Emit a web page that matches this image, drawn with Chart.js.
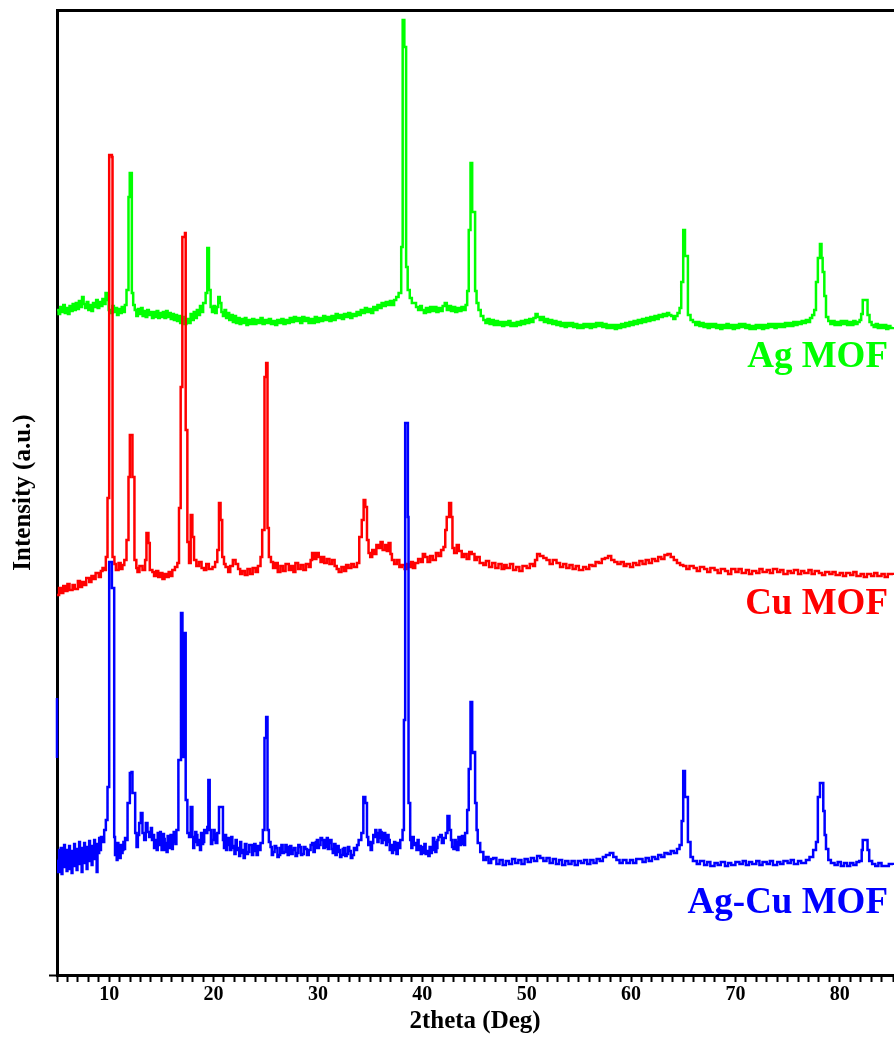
<!DOCTYPE html>
<html>
<head>
<meta charset="utf-8">
<script src="https://cdn.jsdelivr.net/npm/chart.js@4.4.1/dist/chart.umd.min.js"></script>
<style>
  html, body { margin: 0; padding: 0; background: #fff; }
  #wrap { width: 894px; height: 1037px; position: relative; }
</style>
</head>
<body>
<div id="wrap"><canvas id="c" width="894" height="1037"></canvas></div>
<script>
// ---- Data (2theta in degrees, intensity in arbitrary units, stacked offsets as shown) ----
const seriesNames = ['Ag-Cu MOF', 'Cu MOF', 'Ag MOF'];
const xTickLabels = [10, 20, 30, 40, 50, 60, 70, 80];

const agMOF = [[5.0,690],[5.15,686],[5.3,693],[5.45,688],[5.6,695],[5.75,687],[5.9,692],[6.05,686],[6.2,694],[6.35,689],[6.5,696],[6.65,690],[6.8,697],[6.95,691],[7.1,699],[7.25,693],[7.4,703],[7.55,696],[7.7,692],[7.85,698],[8.0,690],[8.15,695],[8.3,689],[8.45,697],[8.6,693],[8.75,700],[8.9,692],[9.05,698],[9.2,694],[9.35,701],[9.5,696],[9.65,707],[9.8,700],[9.95,690],[10.1,687],[10.3,694],[10.45,688],[10.6,692],[10.75,685],[10.9,691],[11.05,687],[11.2,693],[11.35,688],[11.5,695],[11.66,710],[11.85,803],[11.97,827],[12.1,827],[12.17,707],[12.3,695],[12.45,690],[12.6,684],[12.75,691],[12.9,686],[13.05,692],[13.2,684],[13.35,689],[13.5,683],[13.65,690],[13.8,685],[13.95,688],[14.1,682],[14.25,688],[14.4,683],[14.55,689],[14.7,682],[14.85,687],[15.0,683],[15.15,688],[15.3,682],[15.45,689],[15.6,683],[15.75,687],[15.9,681],[16.05,686],[16.2,680],[16.35,685],[16.5,679],[16.65,684],[16.8,677],[17.0,683],[17.2,676],[17.4,681],[17.6,677],[17.8,686],[17.95,680],[18.1,688],[18.25,682],[18.4,690],[18.55,685],[18.7,694],[18.85,688],[19.0,697],[19.24,707],[19.4,752],[19.56,710],[19.72,693],[19.85,688],[20.0,694],[20.15,687],[20.3,693],[20.45,703],[20.6,697],[20.75,688],[20.9,684],[21.05,690],[21.2,682],[21.35,687],[21.5,680],[21.7,685],[21.85,678],[22.0,684],[22.15,677],[22.3,682],[22.5,676],[22.65,681],[22.8,677],[23.0,682],[23.15,675],[23.3,680],[23.5,676],[23.7,681],[23.9,676],[24.1,680],[24.3,677],[24.5,682],[24.7,676],[24.9,680],[25.1,677],[25.3,681],[25.5,676],[25.7,679],[25.9,675],[26.1,680],[26.3,677],[26.5,681],[26.7,676],[26.9,680],[27.1,677],[27.3,682],[27.5,678],[27.7,683],[27.9,679],[28.1,682],[28.3,677],[28.5,683],[28.7,679],[28.9,682],[29.1,677],[29.3,681],[29.5,677],[29.7,683],[29.9,678],[30.1,682],[30.3,679],[30.5,684],[30.7,680],[30.9,683],[31.1,679],[31.3,684],[31.5,680],[31.7,686],[31.9,682],[32.1,685],[32.3,681],[32.5,686],[32.7,683],[32.9,687],[33.1,682],[33.3,686],[33.5,684],[33.7,688],[33.9,685],[34.1,690],[34.3,687],[34.5,692],[34.7,688],[34.9,691],[35.1,687],[35.3,693],[35.5,690],[35.7,695],[35.9,692],[36.1,697],[36.3,694],[36.5,698],[36.7,695],[36.9,699],[37.09,695],[37.3,700],[37.5,703],[37.73,707],[37.98,753],[38.12,980],[38.28,953],[38.45,733],[38.6,710],[38.8,702],[39.0,697],[39.16,697],[39.4,693],[39.6,690],[39.8,694],[39.96,690],[40.15,687],[40.35,692],[40.55,688],[40.75,693],[40.95,689],[41.15,693],[41.35,688],[41.55,692],[41.75,689],[41.95,694],[42.15,697],[42.35,690],[42.55,694],[42.75,689],[42.95,693],[43.15,688],[43.35,692],[43.55,689],[43.75,693],[43.95,690],[44.15,695],[44.3,709],[44.45,770],[44.62,837],[44.78,788],[44.95,788],[45.06,709],[45.2,697],[45.38,690],[45.6,684],[45.85,680],[46.05,677],[46.25,681],[46.45,676],[46.65,680],[46.85,675],[47.05,679],[47.25,675],[47.45,678],[47.65,674],[47.85,678],[48.05,675],[48.25,679],[48.45,674],[48.65,677],[48.85,674],[49.05,678],[49.25,675],[49.45,679],[49.65,676],[49.85,680],[50.05,677],[50.25,681],[50.45,678],[50.65,682],[50.85,686],[51.05,683],[51.25,680],[51.45,683],[51.65,678],[51.85,681],[52.05,677],[52.25,680],[52.45,676],[52.65,679],[52.85,675],[53.05,678],[53.25,674],[53.45,677],[53.65,673],[53.85,677],[54.05,674],[54.25,677],[54.45,673],[54.65,676],[54.85,672],[55.05,675],[55.25,672],[55.45,676],[55.65,673],[55.85,676],[56.05,672],[56.25,676],[56.45,673],[56.65,677],[56.85,674],[57.05,677],[57.25,673],[57.45,676],[57.65,672],[57.85,675],[58.05,672],[58.25,675],[58.45,671],[58.65,675],[58.85,672],[59.05,676],[59.25,673],[59.45,677],[59.65,674],[59.85,678],[60.05,675],[60.25,679],[60.45,676],[60.65,680],[60.85,677],[61.05,681],[61.25,678],[61.45,682],[61.65,679],[61.85,683],[62.05,680],[62.25,684],[62.45,681],[62.65,685],[62.85,683],[63.05,686],[63.25,684],[63.45,687],[63.65,685],[63.85,684],[64.05,681],[64.25,684],[64.45,687],[64.65,692],[64.81,718],[65.0,770],[65.17,744],[65.35,744],[65.45,685],[65.7,680],[65.93,678],[66.15,675],[66.35,678],[66.55,674],[66.75,677],[66.95,673],[67.15,676],[67.35,672],[67.55,676],[67.75,673],[67.95,676],[68.15,672],[68.35,675],[68.55,671],[68.75,675],[68.95,672],[69.15,676],[69.35,672],[69.55,675],[69.75,671],[69.95,675],[70.15,672],[70.35,676],[70.55,673],[70.75,676],[70.95,672],[71.15,675],[71.35,671],[71.55,674],[71.75,671],[71.95,675],[72.15,672],[72.35,675],[72.55,671],[72.75,675],[72.95,672],[73.15,676],[73.35,673],[73.55,676],[73.75,672],[73.95,676],[74.15,673],[74.35,676],[74.55,673],[74.75,677],[74.95,674],[75.15,677],[75.35,674],[75.55,678],[75.75,675],[75.95,678],[76.15,676],[76.35,679],[76.55,677],[76.75,680],[76.95,678],[77.15,682],[77.35,685],[77.55,690],[77.72,718],[77.9,742],[78.1,756],[78.25,742],[78.36,728],[78.52,704],[78.68,683],[78.9,679],[79.1,676],[79.3,679],[79.5,675],[79.7,678],[79.9,675],[80.1,679],[80.3,676],[80.5,679],[80.7,675],[80.9,678],[81.1,675],[81.3,679],[81.5,676],[81.7,678],[81.9,680],[82.05,686],[82.2,700],[82.5,700],[82.66,685],[82.85,678],[83.05,675],[83.25,673],[83.45,676],[83.65,672],[83.85,675],[84.05,672],[84.25,675],[84.45,671],[84.65,674],[84.85,672],[85.1,673]];

const cuMOF = [[5.0,405],[5.2,412],[5.38,407],[5.6,414],[5.8,409],[6.0,416],[6.2,410],[6.49,415],[6.7,411],[7.0,419],[7.2,413],[7.4,418],[7.6,415],[7.8,422],[8.09,418],[8.3,424],[8.5,421],[8.7,427],[9.0,423],[9.2,429],[9.36,432],[9.55,430],[9.68,443],[9.84,502],[10.0,845],[10.26,843],[10.32,443],[10.5,436],[10.64,430],[10.9,437],[11.1,431],[11.27,435],[11.45,440],[11.66,460],[11.85,523],[11.98,565],[12.12,565],[12.23,523],[12.42,440],[12.6,432],[12.71,428],[12.9,434],[13.19,430],[13.44,440],[13.57,467],[13.76,457],[13.89,430],[14.14,428],[14.3,424],[14.5,429],[14.7,423],[14.9,427],[15.1,421],[15.3,426],[15.5,423],[15.7,428],[15.9,424],[16.05,430],[16.3,433],[16.53,437],[16.69,492],[16.85,613],[17.01,763],[17.26,767],[17.33,570],[17.49,458],[17.65,437],[17.81,485],[17.97,463],[18.13,440],[18.35,434],[18.6,438],[18.85,432],[19.08,430],[19.3,436],[19.55,431],[19.9,433],[20.15,438],[20.36,450],[20.52,497],[20.67,480],[20.83,443],[21.0,436],[21.15,433],[21.4,428],[21.6,434],[21.85,440],[22.11,436],[22.35,431],[22.55,426],[22.75,429],[23.0,425],[23.25,431],[23.5,426],[23.75,432],[24.02,428],[24.25,434],[24.5,443],[24.66,470],[24.88,623],[25.04,637],[25.17,472],[25.3,443],[25.5,438],[25.7,432],[25.93,437],[26.15,428],[26.4,434],[26.65,429],[26.9,436],[27.21,430],[27.45,434],[27.65,428],[27.84,437],[28.1,431],[28.35,435],[28.6,430],[28.85,436],[29.12,433],[29.3,440],[29.44,447],[29.65,441],[29.85,447],[30.08,443],[30.25,438],[30.39,443],[30.6,437],[30.85,441],[31.1,436],[31.35,440],[31.6,434],[31.8,431],[31.99,428],[32.25,433],[32.5,429],[32.7,435],[32.94,432],[33.2,436],[33.45,433],[33.74,437],[33.96,463],[34.2,480],[34.38,500],[34.54,493],[34.7,460],[34.85,447],[35.01,443],[35.2,450],[35.4,446],[35.6,455],[35.81,452],[36.0,458],[36.2,450],[36.45,455],[36.6,449],[36.77,457],[36.95,446],[37.09,440],[37.3,436],[37.55,440],[37.8,433],[38.04,435],[38.3,431],[38.5,436],[38.68,433],[38.9,438],[39.1,432],[39.32,437],[39.6,441],[39.85,438],[40.05,446],[40.27,443],[40.5,438],[40.75,444],[41.0,440],[41.3,447],[41.55,444],[41.8,450],[42.03,453],[42.2,470],[42.34,483],[42.57,497],[42.76,483],[42.89,452],[43.05,447],[43.3,455],[43.5,449],[43.78,443],[44.0,446],[44.25,441],[44.5,448],[44.74,446],[45.0,440],[45.22,443],[45.5,437],[45.85,435],[46.1,439],[46.4,433],[46.7,437],[47.0,432],[47.3,436],[47.6,431],[47.85,435],[48.08,432],[48.4,436],[48.7,430],[49.0,433],[49.3,429],[49.6,434],[50.0,432],[50.3,436],[50.6,434],[50.8,440],[51.0,446],[51.27,444],[51.6,442],[51.9,440],[52.2,436],[52.5,440],[52.86,437],[53.2,433],[53.5,436],[53.8,432],[54.1,435],[54.4,431],[54.7,434],[55.0,430],[55.41,433],[55.7,431],[56.0,435],[56.3,434],[56.6,438],[56.9,437],[57.2,441],[57.5,442],[57.8,444],[58.1,440],[58.4,438],[58.7,436],[59.0,438],[59.3,434],[59.56,436],[59.9,433],[60.2,437],[60.5,435],[60.8,439],[61.1,436],[61.4,440],[61.7,437],[62.0,441],[62.3,439],[62.6,443],[62.9,441],[63.2,445],[63.5,446],[63.8,443],[64.1,440],[64.4,437],[64.7,435],[65.0,434],[65.3,431],[65.6,434],[66.0,432],[66.3,429],[66.6,433],[67.0,431],[67.3,428],[67.6,432],[68.0,430],[68.3,427],[68.6,431],[69.0,429],[69.3,426],[69.6,431],[70.0,428],[70.3,431],[70.6,427],[71.0,430],[71.3,426],[71.6,429],[72.0,427],[72.3,431],[72.6,428],[73.0,430],[73.3,427],[73.6,431],[74.0,428],[74.3,430],[74.6,426],[75.0,429],[75.3,427],[75.6,430],[76.0,426],[76.3,429],[76.6,427],[77.0,430],[77.3,426],[77.6,429],[78.0,427],[78.3,425],[78.6,428],[79.0,426],[79.3,428],[79.6,425],[80.0,427],[80.3,424],[80.6,427],[81.0,425],[81.3,428],[81.6,424],[82.0,426],[82.3,423],[82.6,426],[83.0,424],[83.3,427],[83.6,424],[84.0,426],[84.3,423],[84.6,426],[85.1,425]];

const agCuMOF = [[5.0,302],[5.0,242],[5.01,null],[5.05,140],[5.12,128],[5.2,150],[5.28,135],[5.36,152],[5.44,126],[5.52,148],[5.6,138],[5.68,155],[5.76,133],[5.84,150],[5.92,129],[6.0,146],[6.08,137],[6.16,154],[6.24,131],[6.32,149],[6.4,127],[6.48,145],[6.56,139],[6.64,156],[6.72,134],[6.8,151],[6.88,130],[6.96,147],[7.04,141],[7.12,158],[7.2,136],[7.28,152],[7.36,128],[7.44,146],[7.52,140],[7.6,157],[7.68,137],[7.76,153],[7.84,131],[7.92,149],[8.0,143],[8.08,159],[8.16,139],[8.24,154],[8.32,135],[8.4,150],[8.48,145],[8.56,160],[8.64,141],[8.72,156],[8.8,128],[8.88,151],[8.96,147],[9.04,162],[9.12,150],[9.21,163],[9.35,158],[9.52,170],[9.68,180],[9.84,213],[10.0,438],[10.18,438],[10.26,412],[10.39,412],[10.48,163],[10.56,145],[10.65,156],[10.72,140],[10.8,157],[10.88,146],[10.95,152],[11.02,142],[11.1,155],[11.2,147],[11.28,150],[11.36,158],[11.45,151],[11.52,162],[11.6,160],[11.76,197],[11.98,227],[12.14,228],[12.23,207],[12.39,207],[12.49,167],[12.62,153],[12.75,165],[12.87,177],[13.03,187],[13.19,167],[13.35,160],[13.51,177],[13.67,168],[13.83,163],[14.0,172],[14.1,160],[14.2,165],[14.3,152],[14.35,158],[14.46,160],[14.55,150],[14.65,167],[14.72,155],[14.8,156],[14.88,168],[14.95,165],[15.02,150],[15.1,153],[15.18,166],[15.25,161],[15.32,150],[15.42,157],[15.5,148],[15.6,164],[15.7,152],[15.8,155],[15.88,165],[15.95,163],[16.02,151],[16.1,158],[16.18,168],[16.25,166],[16.35,156],[16.44,170],[16.63,240],[16.88,387],[17.02,243],[17.17,367],[17.33,200],[17.49,167],[17.65,163],[17.81,193],[17.97,163],[18.05,152],[18.15,158],[18.25,168],[18.35,165],[18.45,155],[18.6,160],[18.7,150],[18.8,167],[18.9,156],[19.0,158],[19.1,170],[19.24,167],[19.4,173],[19.5,220],[19.63,170],[19.75,156],[19.88,160],[20.0,170],[20.1,166],[20.2,157],[20.36,167],[20.52,193],[20.77,193],[20.9,160],[21.0,152],[21.1,165],[21.2,150],[21.3,155],[21.38,162],[21.47,157],[21.58,150],[21.7,163],[21.8,152],[21.9,154],[22.0,146],[22.11,160],[22.22,150],[22.35,152],[22.45,144],[22.55,158],[22.65,147],[22.75,150],[22.88,142],[23.0,156],[23.15,146],[23.3,148],[23.42,155],[23.55,155],[23.68,145],[23.8,149],[23.9,156],[24.02,150],[24.12,145],[24.25,154],[24.38,150],[24.5,157],[24.72,170],[24.88,262],[25.04,283],[25.17,170],[25.3,158],[25.46,153],[25.58,145],[25.7,148],[25.85,154],[26.0,152],[26.12,143],[26.25,145],[26.38,152],[26.5,155],[26.62,147],[26.75,148],[26.88,155],[27.0,153],[27.1,145],[27.21,150],[27.33,154],[27.45,146],[27.58,150],[27.7,152],[27.85,144],[28.0,147],[28.12,155],[28.25,153],[28.38,145],[28.5,146],[28.65,153],[28.8,151],[28.95,145],[29.12,150],[29.3,155],[29.44,157],[29.57,148],[29.7,152],[29.8,158],[29.9,160],[30.0,152],[30.1,155],[30.25,162],[30.4,160],[30.52,152],[30.65,153],[30.75,160],[30.85,162],[30.95,151],[31.04,157],[31.15,160],[31.3,151],[31.42,147],[31.55,156],[31.68,145],[31.8,148],[31.9,154],[31.99,150],[32.12,143],[32.25,145],[32.38,151],[32.5,152],[32.62,144],[32.75,146],[32.88,153],[33.0,149],[33.15,142],[33.3,145],[33.45,152],[33.58,150],[33.75,155],[33.9,160],[34.16,167],[34.35,203],[34.54,197],[34.7,163],[34.82,155],[34.95,158],[35.05,150],[35.18,157],[35.3,165],[35.4,163],[35.5,170],[35.6,167],[35.7,158],[35.81,162],[35.9,170],[36.0,168],[36.1,157],[36.2,160],[36.32,167],[36.45,163],[36.52,155],[36.6,158],[36.68,165],[36.77,160],[36.88,150],[37.0,155],[37.1,147],[37.2,150],[37.3,158],[37.41,153],[37.52,146],[37.65,157],[37.78,152],[37.89,160],[38.11,170],[38.24,280],[38.36,577],[38.56,577],[38.62,483],[38.68,197],[38.84,160],[38.95,152],[39.05,163],[39.18,155],[39.32,157],[39.44,150],[39.55,160],[39.65,150],[39.75,154],[39.85,146],[39.96,153],[40.08,147],[40.2,156],[40.32,146],[40.45,149],[40.58,144],[40.7,153],[40.8,147],[40.92,150],[41.02,162],[41.15,158],[41.25,148],[41.35,152],[41.45,160],[41.55,163],[41.71,165],[41.87,157],[42.05,162],[42.25,167],[42.41,184],[42.6,170],[42.75,160],[42.85,153],[42.98,151],[43.1,160],[43.2,158],[43.32,150],[43.46,163],[43.58,155],[43.7,156],[43.8,164],[43.9,162],[44.0,155],[44.1,167],[44.3,190],[44.45,231],[44.62,298],[44.78,247],[44.93,248],[45.06,197],[45.2,170],[45.31,157],[45.55,148],[45.85,140],[46.1,143],[46.35,137],[46.6,141],[46.8,142],[47.1,136],[47.4,140],[47.7,135],[48.0,139],[48.3,136],[48.6,141],[48.9,137],[49.2,140],[49.5,136],[49.8,141],[50.1,138],[50.4,142],[50.7,139],[51.0,144],[51.3,142],[51.6,139],[51.9,142],[52.2,137],[52.5,141],[52.8,136],[53.1,140],[53.4,135],[53.7,139],[54.0,136],[54.3,139],[54.6,135],[54.9,139],[55.2,137],[55.5,140],[55.8,136],[56.1,140],[56.4,137],[56.7,141],[57.0,139],[57.3,143],[57.6,145],[57.96,147],[58.3,143],[58.6,140],[58.9,137],[59.2,140],[59.56,137],[59.9,140],[60.2,137],[60.5,141],[60.83,141],[61.1,138],[61.4,142],[61.7,139],[62.0,143],[62.3,141],[62.6,145],[62.9,143],[63.2,147],[63.5,146],[63.8,149],[64.1,147],[64.4,151],[64.65,155],[64.85,179],[65.0,229],[65.17,203],[65.35,203],[65.45,158],[65.7,143],[65.93,139],[66.3,136],[66.6,139],[67.0,135],[67.3,138],[67.6,134],[68.0,137],[68.3,135],[68.6,138],[69.0,134],[69.3,137],[69.6,135],[70.0,138],[70.39,136],[70.7,139],[71.0,135],[71.3,138],[71.6,136],[72.0,139],[72.3,135],[72.6,138],[73.0,136],[73.3,139],[73.6,135],[74.0,138],[74.3,136],[74.6,139],[75.0,137],[75.3,140],[75.6,136],[76.0,139],[76.3,137],[76.76,140],[77.1,143],[77.45,150],[77.72,158],[77.9,203],[78.1,217],[78.3,217],[78.42,189],[78.55,165],[78.68,151],[78.9,140],[79.15,137],[79.5,135],[79.8,138],[80.1,134],[80.4,137],[80.7,134],[81.0,137],[81.3,135],[81.6,138],[81.86,139],[82.1,150],[82.2,160],[82.5,160],[82.66,150],[82.82,139],[83.1,136],[83.4,134],[83.7,137],[84.0,134],[84.41,134],[84.7,136],[85.1,135]];

// ---- Styles ----
const FONT = "'Liberation Serif', 'Times New Roman', serif";
const seriesColors = ['#0000ff', '#ff0000', '#00ff00'];
const labelAnchors = [87, 386, 633]; // intensity level of each label baseline

Chart.defaults.font.family = FONT;
Chart.defaults.color = '#000';

const seriesLabelPlugin = {
  id: 'seriesLabels',
  afterDatasetsDraw(chart) {
    const { ctx, chartArea, scales } = chart;
    ctx.save();
    ctx.font = 'bold 37px ' + FONT;
    ctx.textAlign = 'right';
    ctx.textBaseline = 'alphabetic';
    seriesNames.forEach((name, i) => {
      ctx.fillStyle = seriesColors[i];
      ctx.fillText(name, chartArea.right - 5, scales.y.getPixelForValue(labelAnchors[i]));
    });
    ctx.restore();
  }
};

const seriesData = [agCuMOF, cuMOF, agMOF];

new Chart(document.getElementById('c'), {
  type: 'line',
  data: {
    datasets: seriesData.map((d, i) => ({
      label: seriesNames[i],
      data: d,
      borderColor: seriesColors[i],
      backgroundColor: seriesColors[i],
      borderWidth: 2.5,
      pointRadius: 0,
      stepped: true,
      fill: false,
      spanGaps: false,
      clip: 3
    }))
  },
  options: {
    responsive: false,
    animation: false,
    events: [],
    layout: { padding: 0 },
    plugins: { legend: { display: false }, tooltip: { enabled: false } },
    scales: {
      x: {
        type: 'linear', position: 'bottom', min: 5, max: 85.1,
        border: { display: true, color: '#000', width: 3 },
        grid: { display: true, drawOnChartArea: false, drawTicks: true, tickLength: 7, tickWidth: 2, tickColor: '#000' },
        ticks: {
          stepSize: 1, autoSkip: false, maxRotation: 0, minRotation: 0, padding: 1,
          color: '#000', font: { family: FONT, size: 20, weight: 'bold' },
          callback: (v) => xTickLabels.includes(Math.round(v)) && Math.abs(v - Math.round(v)) < 1e-6 ? String(Math.round(v)) : ''
        },
        title: { display: true, text: '2theta (Deg)', color: '#000', font: { family: FONT, size: 25, weight: 'bold' }, padding: { top: 0, bottom: 0 } },
        afterFit: (s) => { s.height = 62; }
      },
      xTop: {
        type: 'linear', position: 'top', min: 5, max: 85.1,
        border: { display: true, color: '#000', width: 3 },
        grid: { display: true, drawOnChartArea: false, drawTicks: false },
        ticks: { display: false },
        afterFit: (s) => { s.height = 10; }
      },
      y: {
        type: 'linear', position: 'left', min: 25, max: 990,
        border: { display: true, color: '#000', width: 3 },
        grid: { display: true, drawOnChartArea: false, drawTicks: true, tickLength: 8, tickWidth: 2, tickColor: '#000' },
        ticks: { display: false },
        afterBuildTicks: (s) => { s.ticks = [{ value: 25 }]; },
        title: { display: true, text: 'Intensity (a.u.)', color: '#000', font: { family: FONT, size: 25, weight: 'bold' }, padding: { top: 9, bottom: 0 } },
        afterFit: (s) => { s.width = 57; }
      }
    }
  },
  plugins: [seriesLabelPlugin]
});
</script>
</body>
</html>
